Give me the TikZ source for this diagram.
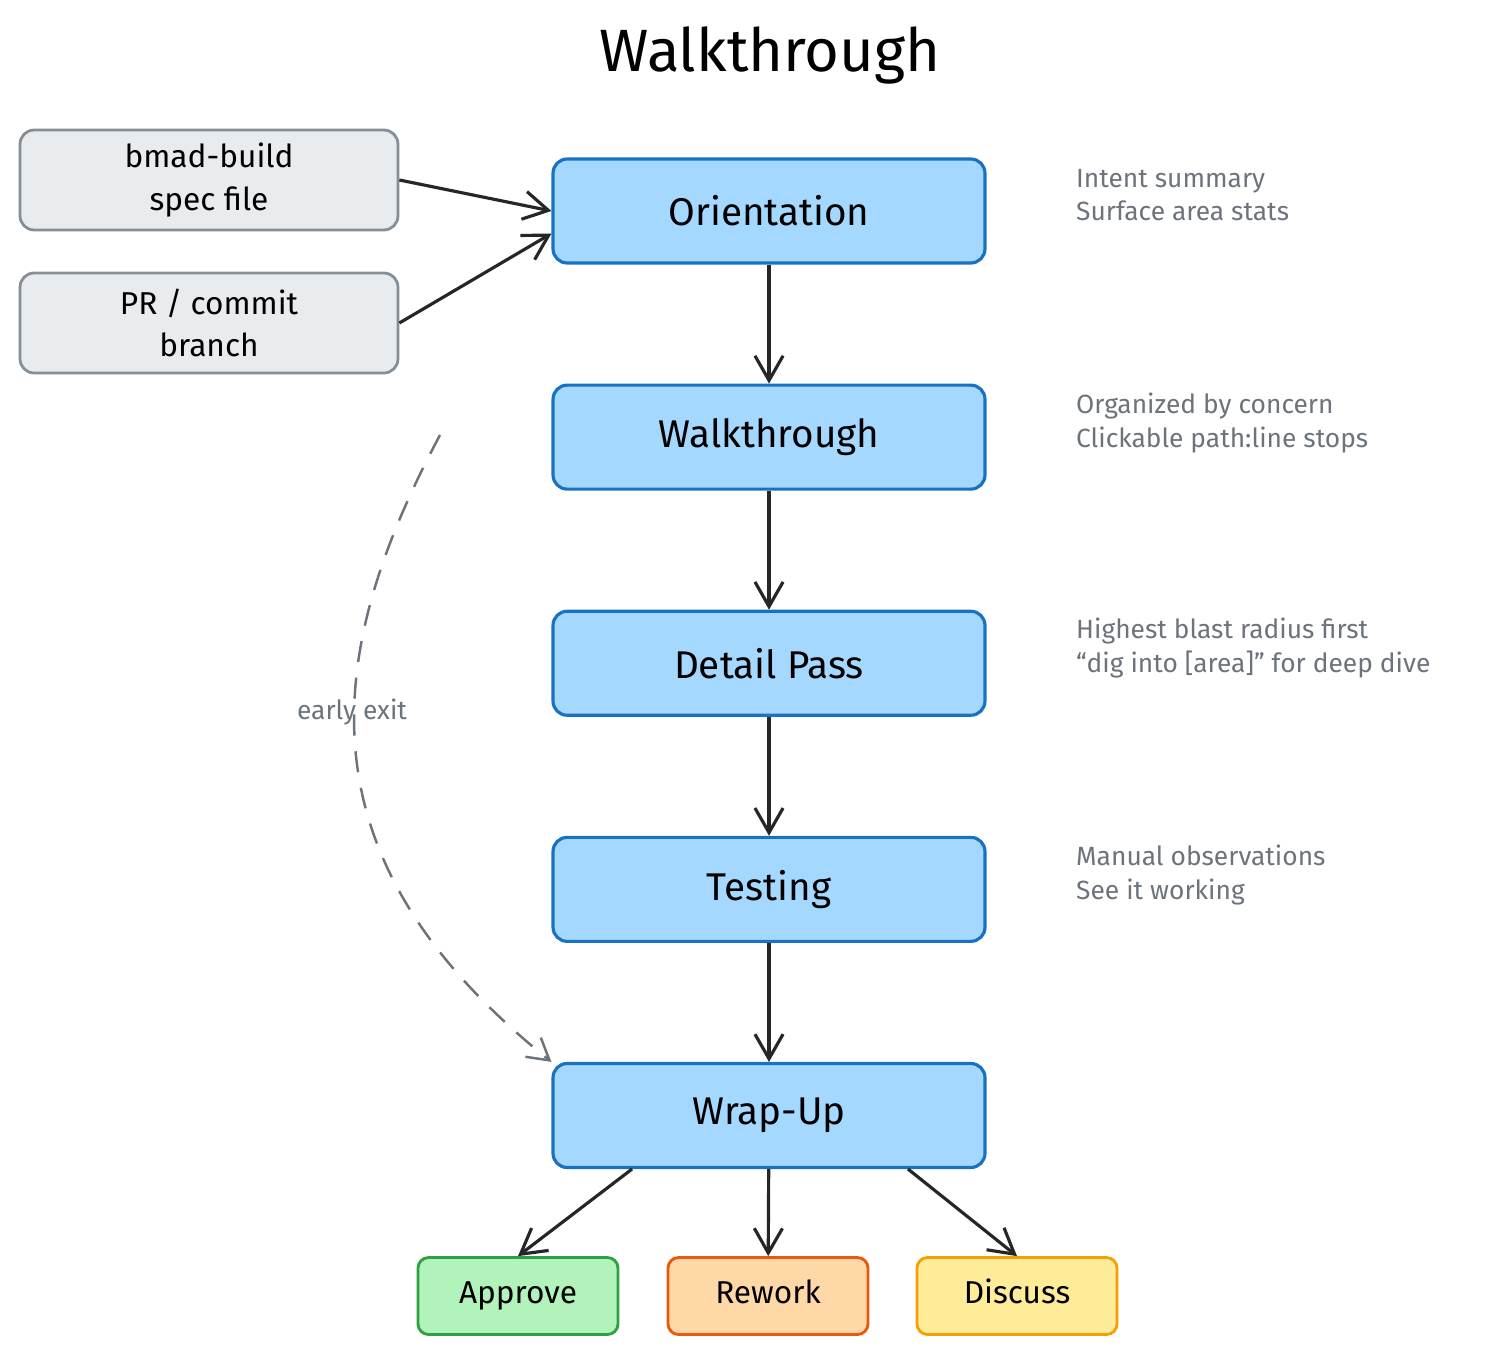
\documentclass[tikz,border=0pt]{standalone}
\usepackage{fontspec}
\setmainfont{Fira Sans}
\usepackage{xcolor}
\usetikzlibrary{arrows.meta, positioning}
\definecolor{stepfill}{HTML}{A5D8FF}
\definecolor{stepdraw}{HTML}{1971C2}
\definecolor{srcfill}{HTML}{E9ECEF}
\definecolor{srcdraw}{HTML}{868E96}
\definecolor{notegray}{HTML}{6C737B}
\definecolor{okfill}{HTML}{B2F2BB}
\definecolor{okdraw}{HTML}{2F9E44}
\definecolor{redofill}{HTML}{FFD8A8}
\definecolor{redodraw}{HTML}{E8590C}
\definecolor{talkfill}{HTML}{FFEC99}
\definecolor{talkdraw}{HTML}{F59F00}
\begin{document}
\begin{tikzpicture}[
    x=0.02cm, y=-0.02cm,
    node distance=2.38cm,
    phase/.style={rectangle, rounded corners=8pt, draw=stepdraw, fill=stepfill, line width=1.8pt, minimum width=8.64cm, minimum height=2.08cm, align=center, font=\fontsize{22}{26}\selectfont},
    src/.style={rectangle, rounded corners=8pt, draw=srcdraw, fill=srcfill, line width=1.6pt, minimum width=7.56cm, minimum height=2.0cm, align=center, font=\fontsize{18}{24}\selectfont},
    outcome/.style={rectangle, rounded corners=6pt, line width=1.6pt, minimum width=4cm, minimum height=1.54cm, text height=13pt, text depth=4pt, font=\fontsize{18}{22}\selectfont},
    note/.style={anchor=west, align=left, text=notegray, font=\fontsize{15}{19}\selectfont},
    arrow/.style={-{Straight Barb[length=14pt,width=16pt]}, line width=1.8pt, black!85}
]
\useasboundingbox (0,0) rectangle (1510,1356);

\node[font=\fontsize{34}{40}\selectfont] (title) at (770,55) {Walkthrough};

\node[phase] (orient) at (769,211) {Orientation};
\node[phase, below=of orient] (walk) {Walkthrough};
\node[phase, below=of walk] (detail) {Detail Pass};
\node[phase, below=of detail] (test) {Testing};
\node[phase, below=of test] (wrap) {Wrap-Up};

\node[src] (spec) at (209,180) {bmad-build\\spec file};
\node[src] (pr) at (209,323) {PR / commit\\branch};

\node[outcome, draw=okdraw, fill=okfill] (approve) at (518,1296) {Approve};
\node[outcome, draw=redodraw, fill=redofill] (rework) at (768,1296) {Rework};
\node[outcome, draw=talkdraw, fill=talkfill] (discuss) at (1017,1296) {Discuss};

\node[note] (n1) at (1070,195) {Intent summary\\Surface area stats};
\node[note] (n2) at (1070,423) {Organized by concern\\Clickable path:line stops};
\node[note] (n3) at (1070,648) {Highest blast radius first\\``dig into [area]'' for deep dive};
\node[note] (n4) at (1070,875) {Manual observations\\See it working};

\draw[arrow] (spec.east) -- (orient.west);
\draw[arrow] (pr.east) -- ([yshift=-0.45cm]orient.west);
\draw[arrow] (orient) -- (walk);
\draw[arrow] (walk) -- (detail);
\draw[arrow] (detail) -- (test);
\draw[arrow] (test) -- (wrap);
\draw[arrow] ([xshift=-2.74cm]wrap.south) -- (approve.north);
\draw[arrow] (wrap) -- (rework);
\draw[arrow] ([xshift=2.78cm]wrap.south) -- (discuss.north);

\coordinate (exitstart) at (440,435);
\draw[dashed, dash pattern=on 12pt off 9pt, line width=1.4pt, notegray, -{Straight Barb[length=12pt,width=14pt]}]
  (exitstart) .. controls (320,660) and (300,860) .. (wrap.north west);
\node[text=notegray, font=\fontsize{15}{19}\selectfont, inner sep=1pt] (exitlabel) at (352,712) {early exit};
\end{tikzpicture}
\end{document}
